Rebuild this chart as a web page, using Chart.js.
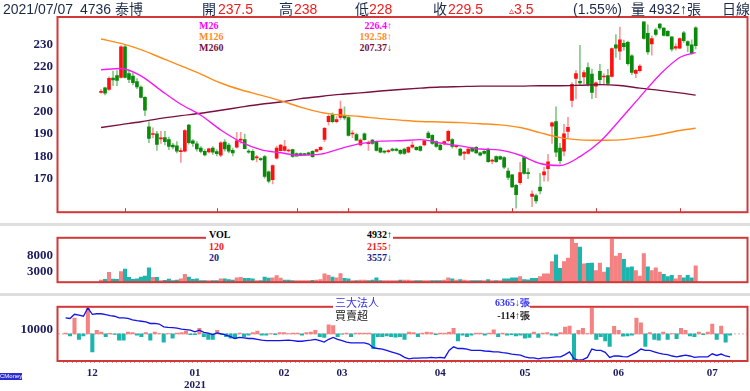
<!DOCTYPE html>
<html>
<head>
<meta charset="utf-8">
<script src="https://cdn.jsdelivr.net/npm/chart.js@4.4.1/dist/chart.umd.min.js"></script>
<style>
body { margin: 0; width: 750px; height: 391px; overflow: hidden; background: #fff; position: relative;
       font-family: "Liberation Sans", "Noto Sans CJK TC", sans-serif; }
canvas { position: absolute; left: 0; }
.t { position: absolute; white-space: nowrap; line-height: 14px; font-size: 14px; color: #1c2a4a; }
.r { color: #f01c1c; }
.box { position: absolute; background: #fff; }
.lg { position: absolute; white-space: nowrap; font: bold 10px "Liberation Serif", serif; line-height: 11px; }
.band { position: absolute; left: 0; width: 750px; height: 3px; background: #dedede; }
</style>
</head>
<body>
<div class="band" style="top:223px"></div>
<div class="band" style="top:292.5px"></div>

<canvas id="cMain" width="750" height="225" style="top:0"></canvas>
<canvas id="cVol" width="750" height="70" style="top:225px"></canvas>
<canvas id="cInst" width="750" height="97" style="top:294px"></canvas>

<!-- header -->
<span class="t" style="left:3px;top:2px">2021/07/07</span>
<span class="t" style="left:80px;top:2px">4736 泰博</span>
<span class="t" style="left:202px;top:2px">開</span><span class="t r" style="left:218px;top:2px">237.5</span>
<span class="t" style="left:279px;top:2px">高</span><span class="t r" style="left:294px;top:2px">238</span>
<span class="t" style="left:355px;top:2px">低</span><span class="t r" style="left:369px;top:2px">228</span>
<span class="t" style="left:433px;top:2px">收</span><span class="t r" style="left:448px;top:2px">229.5</span>
<span class="t r" style="left:509px;top:2px"><span style="font-size:10px">▵</span>3.5</span>
<span class="t" style="left:573px;top:2px">(1.55%)</span>
<span class="t" style="left:631px;top:2px">量 4932↑張</span>
<span class="t" style="left:722px;top:2px">日線</span>

<!-- price legend -->
<div class="box" style="left:197px;top:18px;width:196px;height:35px"></div>
<span class="lg" style="left:199px;top:19.5px;color:#ff00ff">M26</span>
<span class="lg" style="left:199px;top:30.5px;color:#ff8c1a">M126</span>
<span class="lg" style="left:199px;top:41.5px;color:#7a1040">M260</span>
<span class="lg" style="right:358px;top:19.5px;color:#ff00ff">226.4↑</span>
<span class="lg" style="right:358px;top:30.5px;color:#ff8c1a">192.58↑</span>
<span class="lg" style="right:358px;top:41.5px;color:#7a1040">207.37↓</span>

<!-- volume legend -->
<div class="box" style="left:206px;top:228px;width:187px;height:35px"></div>
<span class="lg" style="left:209px;top:228.5px;color:#000">VOL</span>
<span class="lg" style="left:209px;top:240.5px;color:#f01c1c">120</span>
<span class="lg" style="left:209px;top:252px;color:#20208a">20</span>
<span class="lg" style="right:358px;top:228.5px;color:#000">4932↑</span>
<span class="lg" style="right:358px;top:240.5px;color:#f01c1c">2155↑</span>
<span class="lg" style="right:358px;top:252px;color:#20208a">3557↓</span>

<!-- institutional legend -->
<div class="box" style="left:333px;top:297px;width:197px;height:25px"></div>
<span class="lg" style="left:335px;top:296.5px;font:11px 'Noto Sans CJK TC',sans-serif;line-height:11px;color:#3434f0">三大法人</span>
<span class="lg" style="left:335px;top:310px;font:11px 'Noto Sans CJK TC',sans-serif;line-height:11px;color:#222">買賣超</span>
<span class="lg" style="right:220px;top:296.5px;color:#3434f0">6365↓張</span>
<span class="lg" style="right:220px;top:310px;color:#222">-114↑張</span>

<div style="position:absolute;left:0;top:373px;width:22px;height:7px;background:#2b2bd0;color:#fff;font:6px 'Liberation Sans',sans-serif;line-height:7px;text-align:center">CMoney</div>

<script>
// daily candles, 2020/11/23 .. 2021/07/07
const open = [
  208.6,210.6,209.9,215,216.1,215.3,229,217,215.9,213.4,
  211,206.4,193.2,189.8,190.1,187.8,188.4,187.5,185.1,184.7,
  182.1,182.3,194,187,185.6,183.7,182.3,182,183.7,182.2,
  180.5,186.4,185.1,182.7,184.1,187.3,187.5,182.3,182.3,179.3,
  179,179.9,173.1,169.6,179.2,182.5,182.7,182.4,183,181.3,
  181.3,181,181.6,182.3,182.2,183,187.6,195.5,198.6,195.5,
  197.4,197.9,197.4,190,189.7,185.1,190.1,185.7,187.3,186.6,
  183.7,182.1,182.1,183.3,183.3,182.7,183.3,181.9,184.1,184.1,
  184.4,185.1,190.4,189.4,186.6,185.1,185.6,187,187.5,184.3,
  183.3,181.3,181.3,183.7,184.1,181.6,182.3,183.3,177.9,179.9,
  179.9,179.5,173.4,171.7,167.1,168.2,179.5,172.5,162.1,162.5,
  166.3,171.7,174.5,193.5,195.6,183.7,182.3,191.2,205,214.9,
  213.6,215.5,219.7,216.8,211.4,218,215.5,216.1,215.7,229.9,
  227,230.5,231,225,217.1,218.3,240.2,235,230.3,236.6,
  239.2,237.4,235.9,233.5,228.4,228.4,235.2,231.3,229.9,237.5
];
const high = [
  210,211,215.6,218.1,218.4,229.5,230,218.6,217.3,214.8,
  211.5,206.7,195.5,192.8,191.2,191.2,191.2,188.6,185.8,186.6,
  183.7,192,194.3,187.5,186.6,184.4,183,183.7,184.4,183,
  186.6,187.5,185.8,183.7,190.8,190.8,190,183,183,180.5,
  179.5,180.5,173.5,176.2,184.6,185.4,187.2,183.3,183.3,181.6,
  181.6,181.3,181.9,182.6,183.3,184.4,193,198.6,199.5,197.8,
  204.7,202.1,197.8,191.5,190.4,188,190.5,187,187.6,187,
  184,182.6,183,183.7,183.7,183,183.7,184.4,186.6,184.4,
  184.7,187.3,191.2,189.7,187,185.4,187,191.8,188,185.1,
  183.7,182.3,183.7,184.1,184.4,181.9,182.6,183.7,178.8,180.2,
  180.2,179.9,174.8,172,167.5,177.3,180,174.5,164.6,163.2,
  172.4,175.2,180.9,195.5,202.1,185.8,194.3,197.5,213,218.4,
  229.7,218.5,221.8,219,213.3,221.1,216.9,218.9,228.5,234.5,
  237.8,232,231.5,225.5,219,221,240.2,238.8,233.8,237.4,
  239.5,237.6,236.2,233.5,230.3,233,235.9,231.7,232.1,238
];
const low = [
  208.3,207.5,209.5,211.6,211.6,215,215,213,212,210.3,
  206.1,198.2,186.1,188.2,182.7,185.8,185.1,183,183.3,181.6,
  177.3,182,185.5,184.4,182.3,181.6,180.2,181.6,180.9,180.2,
  179.9,182.3,181.6,180.2,183.7,185.8,183.3,181.3,178.1,177.5,
  178,170.3,168.1,167.7,178.8,182.3,182.3,181.9,179.5,180.2,
  180.2,180.5,180.5,179.5,181.9,182.7,186.6,194,195,195,
  196.5,196.3,189,188.4,187,184.7,187.2,182.7,185.4,182.3,
  181.6,181.3,181.6,182.3,182.3,180.9,180.9,181.6,183.7,182.7,
  182.3,184.7,188,185.4,184,182.7,185.1,186.5,183.7,183.7,
  180.2,178.5,181,182,181.3,180.2,181,177.3,176.6,177.3,
  178.5,174.5,169.6,166,156.8,167.5,172,170,157.5,159,
  163.2,168.9,168.9,185.8,179.9,176.6,180.2,188.4,202.1,205.7,
  212.3,212.5,211.4,205.8,206.2,211.9,212.3,211.9,215.4,224.2,
  223.2,227.5,220.8,216.5,215.2,217.7,232.4,225.6,225.3,233.8,
  236.6,233.8,233.8,227,227.5,228,231,226.8,225.6,228
];
const close = [
  209,208.3,214.9,214.2,214,229,215.3,214.4,213,211,
  206.4,200.7,188,190.2,185.4,188.3,186.6,184.4,184.2,182.3,
  182.4,191.5,186.1,185.8,183.3,182.2,180.7,183.4,181.9,181.2,
  186.1,183.3,182.3,181.6,187,187.6,183.5,181.9,178.5,179.7,
  178.5,171,168.9,175.9,183.7,185.1,184.4,182.7,180,180.1,
  180.5,180.8,180.9,179.9,183,184.1,192.5,197.9,195.5,196.5,
  201.1,197.2,189.4,190.3,187.3,187.3,187.5,186,185.8,182.7,
  181.9,181.9,182.4,182.7,182.7,181.3,181.3,184.1,185.1,183,
  182.7,187,188.4,185.8,184.4,183,186.6,191.2,184.4,184.6,
  180.5,181.9,183.3,182.3,181.6,180.5,181.3,177.6,178.2,177.6,
  178.8,175.2,170.6,166.3,162.9,172.8,172.4,172.3,163.2,160.1,
  164.6,173.1,177.6,195,181.9,178.1,190.1,193,212.2,217,
  212.8,217.5,212.3,208.6,212.9,214.3,215.9,212.6,228.2,228.4,
  232.1,229,221.4,217.5,218.5,220.4,232.7,226.7,232.7,234.5,
  237.4,234.1,233.9,227.9,229.1,232.7,231.7,229.6,226,229.5
];
// volume in 張
const volume = [
  500,700,2900,800,700,3150,3900,1360,720,870,
  1440,1720,4280,1360,1360,360,400,800,300,500,
  850,2300,1400,700,850,350,350,300,350,350,
  850,850,650,500,1200,1350,1000,1000,850,350,
  350,1450,1100,1200,1900,1100,500,500,300,300,
  300,300,350,400,500,650,2450,1950,1450,1200,
  2500,1000,850,350,350,500,500,300,500,1200,
  350,350,350,350,350,500,500,500,350,350,
  300,350,350,350,350,350,500,1200,850,500,
  650,500,300,300,350,350,350,650,350,350,
  350,850,850,1200,1200,1550,650,600,1000,1000,
  1550,2400,2400,6200,8300,4100,6200,7300,13300,11900,
  10700,5500,5700,5800,3400,5800,3000,4400,13100,7900,
  8800,6900,4400,4600,3400,1700,8700,4600,3400,4300,
  3000,2300,1600,2000,850,2000,1200,2000,1200,4932
];
// 三大法人 daily net buy / sell (張)
const instNet = [
  70,-160,1311,-460,-160,2139,-1495,300,160,-230,
  40,-40,-530,-530,160,115,-115,-230,115,-530,
  160,30,-690,30,-345,70,115,230,-70,-70,
  460,-230,-460,-460,300,-70,-230,-345,-390,70,
  -230,-115,115,230,-115,-115,30,-70,115,115,
  30,70,70,-115,115,160,300,-230,-300,760,
  690,-230,-30,70,-230,70,70,70,70,-1220,
  -230,-230,-160,-230,-275,-230,-460,160,115,-230,
  70,160,115,-70,70,70,160,460,-575,-115,
  -230,-115,70,70,-115,70,345,-230,70,-115,
  -70,-160,-115,-345,-300,160,-300,70,115,-115,
  -160,115,575,645,-2185,300,460,30,2139,-460,
  -230,-575,-1035,620,300,-185,-160,-115,1311,920,
  -1035,115,-460,-530,160,-460,30,-390,460,300,
  -160,-230,160,-70,160,805,-460,645,-690,-114
];
// 三大法人 holding line (張)
const instHold = [
  11550,11476,12031,11920,11772,12882,12031,12105,12105,11994,
  11846,11772,11550,11550,11476,11291,11180,11106,11032,10810,
  10810,10736,10366,10292,10255,10181,10070,9996,9922,9700,
  9922,9626,9515,9330,9552,9441,9256,9071,8812,8960,
  8886,8812,8812,8701,8590,8516,8516,8516,8516,8553,
  8590,8516,8442,8442,8516,8590,8701,8516,8331,8701,
  8960,8701,8516,8331,8220,8220,8220,8220,8072,7591,
  7480,7406,7221,7036,6851,6666,6296,6111,6185,6185,
  6222,6222,6296,6222,6296,6222,7221,7702,7480,7480,
  7406,7221,7221,7221,7147,7110,7036,7036,6925,6851,
  6740,6666,6592,6370,6222,6222,6111,6222,6222,6296,
  6370,6370,6666,7036,6111,5926,6000,6296,7406,7221,
  7221,6962,6296,6481,6481,6407,6370,6666,6962,7406,
  7221,7221,7036,6851,6740,6666,6481,6370,6481,6592,
  6481,6296,6370,6370,6370,6777,6555,6740,6481,6365
];
// moving averages read at these bar indices
const maIdx = [0,5,10,15,20,25,30,35,40,45,50,55,60,65,70,75,80,85,90,95,100,105,110,115,120,125,130,135,140,145,149];
const m26  = [218.7,219.3,216,209.5,203.3,198.4,191.8,186.5,183,181.6,180.5,181,183.5,185.7,186.8,187,187.5,186,184.7,183.3,182.8,180.5,176.8,175.9,179.9,186.5,196.3,206.5,216.5,224.2,226.4];
const m126 = [232.5,230.5,227.7,224.1,220.5,216.8,212.8,209.8,207.4,204.9,202,199.7,198.5,197.8,196.9,196.2,195.6,195.4,195.1,194.6,194.1,192.9,190.6,188.4,187.4,187.2,187.4,188.4,189.8,191.6,192.58];
const m260 = [192.9,194.2,195.5,197,198.2,199.3,200.6,202,203.3,204.3,205.8,206.8,207.7,208.4,209.2,209.9,210.5,211,211.2,211.4,211.4,211.4,211.6,211.6,211.8,212.1,211.7,210.5,209.5,208.4,207.37];
// month boundaries on the time axis
const monthStarts = [6,29,49,62,84,103,124,145];
const monthLabels = ['12','01','02','03','04','05','06','07'];
const priceTicks = [170,180,190,200,210,220,230];
const volTicks = [3000,8000];
const instTicks = [10000];

const idx = open.map((_, i) => i);
const X_MIN = -1.18, X_MAX = 152.5;
const AXIS_TXT = '#1b1b5e';
const RED = '#ff1010', GREEN = '#0a8a0a', RED_W = '#f79a9a', GREEN_W = '#86c886';
const VOL_UP = '#f58282', VOL_DN = '#1cb5ad';

Chart.defaults.animation = false;
Chart.defaults.devicePixelRatio = 1;

const tickFont = { family: '"Liberation Serif", serif', size: 13, weight: 'bold' };

// red frame around each panel, plus zero line / month marks
const panelFrame = {
  id: 'panelFrame',
  beforeDatasetsDraw(chart, args, opts) {
    if (!opts.zeroAxis) return;
    const { ctx, chartArea: a } = chart;
    const y = chart.scales[opts.zeroAxis].getPixelForValue(0);
    ctx.save();
    ctx.strokeStyle = '#f2a0a0';
    ctx.lineWidth = 1;
    ctx.setLineDash([2, 2]);
    ctx.beginPath();
    ctx.moveTo(a.left, y);
    ctx.lineTo(a.right, y);
    ctx.stroke();
    ctx.restore();
  },
  afterDatasetsDraw(chart, args, opts) {
    const { ctx, chartArea: a } = chart;
    ctx.save();
    ctx.strokeStyle = '#d23838';
    ctx.lineWidth = 2;
    ctx.strokeRect(a.left - 0.5, a.top, a.right - a.left, a.bottom - a.top);
    if (opts.monthMarks) {
      ctx.lineWidth = 1;
      monthStarts.forEach(m => {
        const x = Math.round(chart.scales.x.getPixelForValue(m)) + 0.5;
        ctx.beginPath();
        ctx.moveTo(x, a.bottom);
        ctx.lineTo(x, a.bottom - 4);
        ctx.stroke();
      });
    }
    ctx.restore();
  }
};

function yAxis(min, max, ticks, extra) {
  return Object.assign({
    position: 'left', min, max,
    grid: { display: false, drawTicks: false },
    border: { display: false },
    ticks: { font: tickFont, color: AXIS_TXT, padding: 5, autoSkip: false, callback: v => String(v) },
    afterBuildTicks: s => { s.ticks = ticks.map(v => ({ value: v })); },
    afterFit: s => { s.width = 58; }
  }, extra || {});
}

function hiddenX() {
  return { type: 'linear', min: X_MIN, max: X_MAX, display: false };
}

function baseOptions(padding, scales, pluginOpts) {
  return {
    responsive: false, animation: false, events: [],
    layout: { padding },
    scales,
    plugins: { legend: { display: false }, tooltip: { enabled: false }, panelFrame: pluginOpts }
  };
}

function maLine(values, color) {
  return {
    type: 'line', data: maIdx.map((x, k) => ({ x, y: values[k] })),
    borderColor: color, borderWidth: 1.4, pointRadius: 0, tension: 0.35,
    cubicInterpolationMode: 'monotone', order: 0
  };
}

// price panel
new Chart(document.getElementById('cMain'), {
  type: 'bar',
  data: {
    datasets: [
      maLine(m26, '#f41cf4'),
      maLine(m126, '#ff8c1a'),
      maLine(m260, '#7a1040'),
      {
        data: idx.map(i => ({ x: i, y: [open[i], close[i]] })),
        backgroundColor: idx.map(i => close[i] >= open[i] ? RED : GREEN),
        barThickness: 3, minBarLength: 1, grouped: false, order: 1
      },
      {
        data: idx.map(i => ({ x: i, y: [low[i], high[i]] })),
        backgroundColor: idx.map(i => close[i] >= open[i] ? RED_W : GREEN_W),
        barThickness: 1, grouped: false, order: 2
      }
    ]
  },
  options: baseOptions({ top: 17, bottom: 2.5, right: 2, left: 0 },
    { x: hiddenX(), y: yAxis(155.05, 242.31, priceTicks) },
    { monthMarks: true }),
  plugins: [panelFrame]
});

// volume panel
new Chart(document.getElementById('cVol'), {
  type: 'bar',
  data: {
    datasets: [{
      data: idx.map(i => ({ x: i, y: volume[i] })),
      backgroundColor: idx.map(i => (i === 0 || close[i] >= close[i - 1]) ? VOL_UP : VOL_DN),
      barThickness: 3.4, grouped: false
    }]
  },
  options: baseOptions({ top: 2, bottom: 3.5, right: 2, left: 0 },
    { x: hiddenX(), y: yAxis(-170, 13610, volTicks) },
    {}),
  plugins: [panelFrame]
});

// institutional panel
new Chart(document.getElementById('cInst'), {
  type: 'bar',
  data: {
    datasets: [
      {
        type: 'line', yAxisID: 'yl',
        data: idx.map(i => ({ x: i, y: instHold[i] })),
        borderColor: '#1414e6', borderWidth: 1.3, pointRadius: 0, tension: 0, order: 0
      },
      {
        yAxisID: 'yb',
        data: idx.map(i => ({ x: i, y: instNet[i] })),
        backgroundColor: idx.map(i => instNet[i] >= 0 ? VOL_UP : VOL_DN),
        barThickness: 3.4, grouped: false, order: 1
      }
    ]
  },
  options: baseOptions({ top: 2, bottom: 0, right: 2, left: 0 }, {
    x: {
      type: 'linear', min: X_MIN, max: X_MAX,
      border: { display: false },
      grid: { display: true, drawOnChartArea: false, drawTicks: true, tickLength: 2,
              tickColor: '#ec8a8a', color: '#ec8a8a', tickWidth: 1 },
      ticks: {
        autoSkip: false, maxRotation: 0, padding: 4, color: AXIS_TXT,
        font: { family: '"Liberation Serif", serif', size: 11, weight: 'bold', lineHeight: 1.09 },
        callback: v => {
          const k = monthStarts.indexOf(v);
          if (k < 0) return '';
          return monthLabels[k] === '01' ? ['01', '2021'] : monthLabels[k];
        }
      },
      afterBuildTicks: s => { s.ticks = idx.map(v => ({ value: v })); },
      afterFit: s => { s.height = 30; }
    },
    yl: yAxis(5815, 13030, instTicks),
    yb: { display: false, min: -2250, max: 2250 }
  }, { zeroAxis: 'yb' }),
  plugins: [panelFrame]
});
</script>
</body>
</html>
